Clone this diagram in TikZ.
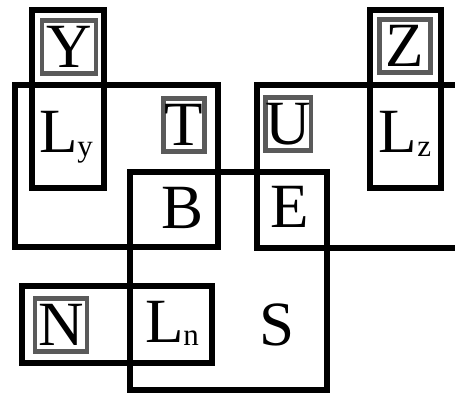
\documentclass[tikz,border=0pt]{standalone}
\usepackage{fontspec}
\setmainfont{Liberation Serif}
\usetikzlibrary{positioning}
\definecolor{framegray}{HTML}{5A5A5A}
\newcommand{\lsub}[1]{L\raisebox{-3.5pt}{\fontsize{31}{31}\selectfont #1}}

\begin{document}
\begin{tikzpicture}[x=1pt,y=-1pt,font=\fontsize{63}{63}\selectfont,
  region/.style={line width=6.5pt,line join=miter},
  tag/.style={draw=framegray,line width=4.5pt,inner sep=0pt,minimum height=53pt},
  word/.style={inner sep=0pt,anchor=base}]
\useasboundingbox (0,0) rectangle (455,403);
\begin{scope}
\clip (0,0) rectangle (455,403);
\draw[region] (15,85) rectangle (218,247);
\draw[region] (257,85) rectangle (480,248);
\draw[region] (32,10) rectangle (104,188);
\draw[region] (370,10) rectangle (441,188);
\draw[region] (130,172) rectangle (327,390);
\draw[region] (22,286) rectangle (212,363);
\end{scope}
\node[tag,minimum width=54pt] (y) at (69,47) {Y};
\node[tag,minimum width=51pt] (z) at (405,46) {Z};
\node[tag,minimum width=41pt] (t) at (184,125) {T};
\node[tag,minimum width=40pt] (u) at (288,124) {U};
\node[tag,minimum width=52pt] (n) at (61,325) {N};
\node[word] (ly) at (66,153) {\lsub{y}};
\node[word] (lz) at (405,153) {\lsub{z}};
\node[word] (b) at (183,229) {B};
\node[word] (e) at (290,228) {E};
\node[word] (ln) at (172,342) {\lsub{n}};
\node[word] (s) at (277,345) {S};
\end{tikzpicture}
\end{document}
